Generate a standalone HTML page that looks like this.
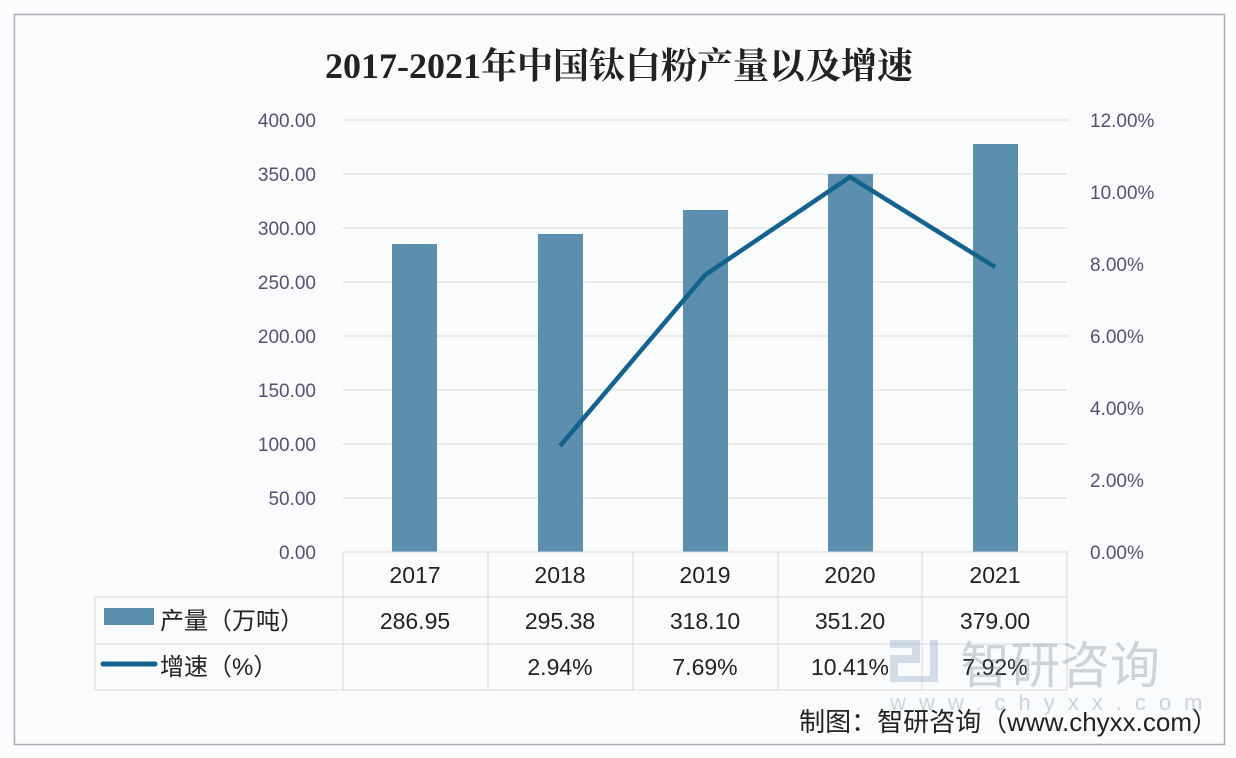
<!DOCTYPE html>
<html><head><meta charset="utf-8"><style>
body{margin:0;width:1236px;height:758px;background:#fbfcfd;overflow:hidden;font-family:"Liberation Sans","Noto Sans CJK SC",sans-serif}
</style></head><body>
<svg width="1236" height="758" xmlns="http://www.w3.org/2000/svg" style="position:absolute;left:0;top:0">
<rect x="0" y="0" width="1236" height="758" fill="#fbfcfd"/>
<rect x="14.5" y="14.5" width="1210" height="730" fill="#fafbfd" stroke="#a9adb3" stroke-width="1.5"/>
<text x="619" y="78" text-anchor="middle" font-size="36" font-weight="bold" fill="#222" font-family="Liberation Serif,Noto Serif CJK SC,serif">2017-2021年中国钛白粉产量以及增速</text>
<g stroke="#d9d9d9" stroke-width="1">
<line x1="343" x2="1067" y1="120" y2="120"/><line x1="343" x2="1067" y1="174" y2="174"/>
<line x1="343" x2="1067" y1="228" y2="228"/><line x1="343" x2="1067" y1="282" y2="282"/>
<line x1="343" x2="1067" y1="336" y2="336"/><line x1="343" x2="1067" y1="390" y2="390"/>
<line x1="343" x2="1067" y1="444" y2="444"/><line x1="343" x2="1067" y1="498" y2="498"/>
</g>
<g font-size="19" fill="#595070" text-anchor="end">
<text x="316" y="127">400.00</text><text x="316" y="181">350.00</text><text x="316" y="235">300.00</text>
<text x="316" y="289">250.00</text><text x="316" y="343">200.00</text><text x="316" y="397">150.00</text>
<text x="316" y="451">100.00</text><text x="316" y="505">50.00</text><text x="316" y="559">0.00</text>
</g>
<g font-size="19" fill="#595070" text-anchor="start">
<text x="1090" y="127">12.00%</text><text x="1090" y="199">10.00%</text><text x="1090" y="271">8.00%</text>
<text x="1090" y="343">6.00%</text><text x="1090" y="415">4.00%</text><text x="1090" y="487">2.00%</text>
<text x="1090" y="559">0.00%</text>
</g>
<g fill="#5b8fad">
<rect x="392" y="244" width="45" height="308"/>
<rect x="538" y="234" width="45" height="318"/>
<rect x="683" y="210" width="45" height="342"/>
<rect x="828" y="174" width="45" height="378"/>
<rect x="973" y="144" width="45" height="408"/>
</g>
<polyline points="560,446 705,275 850,177 995,267" fill="none" stroke="#14628e" stroke-width="4.5" stroke-linejoin="round"/>
<g stroke="#d5d8dc" stroke-width="1" fill="none">
<line x1="343" x2="1067" y1="552" y2="552"/>
<line x1="95" x2="1067" y1="597" y2="597"/>
<line x1="95" x2="1067" y1="644" y2="644"/>
<line x1="95" x2="1067" y1="690" y2="690"/>
<line x1="95" x2="95" y1="597" y2="690"/>
<line x1="343" x2="343" y1="552" y2="690"/><line x1="488" x2="488" y1="552" y2="690"/>
<line x1="633" x2="633" y1="552" y2="690"/><line x1="778" x2="778" y1="552" y2="690"/>
<line x1="922" x2="922" y1="552" y2="690"/><line x1="1067" x2="1067" y1="552" y2="690"/>
</g>
<g font-size="23" fill="#222" text-anchor="middle">
<text x="415" y="583">2017</text><text x="560" y="583">2018</text><text x="705" y="583">2019</text><text x="850" y="583">2020</text><text x="995" y="583">2021</text>
<text x="415" y="629">286.95</text><text x="560" y="629">295.38</text><text x="705" y="629">318.10</text><text x="850" y="629">351.20</text><text x="995" y="629">379.00</text>
<text x="560" y="675">2.94%</text><text x="705" y="675">7.69%</text><text x="850" y="675">10.41%</text><text x="995" y="675">7.92%</text>
</g>
<rect x="104" y="608" width="50" height="17" fill="#5b8fad"/>
<line x1="103" x2="155" y1="664" y2="664" stroke="#14628e" stroke-width="5" stroke-linecap="round"/>
<g font-size="24" fill="#222"><text x="160" y="629">产量（万吨）</text><text x="160" y="675">增速（%）</text></g>
<g opacity="0.35" fill="#7a8a99">
<rect x="890" y="640" width="30" height="8" fill="#8aa5c6"/><rect x="912" y="640" width="8" height="22" fill="#8aa5c6"/>
<rect x="890" y="655" width="30" height="8" fill="#8aa5c6"/><rect x="890" y="655" width="8" height="25" fill="#8aa5c6"/>
<rect x="930" y="640" width="8" height="40" fill="#8aa5c6"/><rect x="890" y="676" width="48" height="6" fill="#8aa5c6"/>
<text x="960" y="683" font-size="50">智研咨询</text>
<text x="890" y="710" font-size="22" letter-spacing="13">www.chyxx.com</text>
</g>
<text x="1218" y="731" text-anchor="end" font-size="26" fill="#222">制图：智研咨询（www.chyxx.com）</text>
</svg>
</body></html>
